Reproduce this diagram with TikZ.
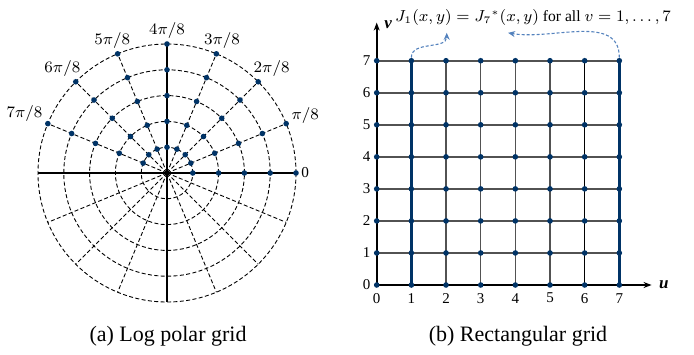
\documentclass[tikz,border=0pt]{standalone}
\usepackage{fontspec}
\setmainfont{Liberation Serif}
\usepackage{amsmath}
\usetikzlibrary{arrows.meta, positioning, calc}
\definecolor{gridNavy}{RGB}{0,51,102}
\definecolor{noteBlue}{RGB}{84,130,189}

\begin{document}
\begin{tikzpicture}[x=0.5pt, y=0.5pt,
    dot/.style={circle, fill=gridNavy, inner sep=0pt, minimum size=2.8pt},
    polarline/.style={dash pattern=on 2pt off 1.2pt, line width=0.45pt},
    gridline/.style={line width=0.8pt, black!68},
    axisline/.style={line width=0.9pt, -{Stealth[length=4pt, width=3pt]}},
    tick/.style={font=\fontsize{7.5}{8}\selectfont},
    note/.style={-{Stealth[length=3.5pt, width=3pt]}, noteBlue, dash pattern=on 1.5pt off 1pt, line width=0.55pt}]
    \useasboundingbox (0,0) rectangle (694,354);
    % (a) log polar grid, centre (167,181), outer radius 129
    \begin{scope}[shift={(167,181)}]
        \foreach \r in {1,...,5} { \draw[polarline] (0,0) circle (25.8*\r); }
        \foreach \a in {0,22.5,...,337.5} { \draw[polarline] (0,0) -- (\a:129); }
        \draw[line width=1.2pt] (-129,0) -- (129,0);
        \draw[line width=1.2pt] (0,-129) -- (0,129);
        \foreach \k/\lab in {0/{0}, 1/{$\pi/8$}, 2/{$2\pi/8$}, 3/{$3\pi/8$}, 4/{$4\pi/8$}, 5/{$5\pi/8$}, 6/{$6\pi/8$}, 7/{$7\pi/8$}} {
            \pgfmathsetmacro\ang{\k*22.5}
            \foreach \r in {1,...,5} { \node[dot] (p-\k-\r) at (\ang:25.8*\r) {}; }
            \node[font=\fontsize{7.6}{8}\selectfont, anchor=\ang+180, inner sep=2.5pt] (lab-\k) at (\ang:129) {\lab};
        }
    \end{scope}
    \node[font=\fontsize{11}{13}\selectfont] (capA) at (168,18) {(a) Log polar grid};

    % (b) rectangular grid, origin (376.7,69)
    \begin{scope}[shift={(376.7,69)}, x=17.33pt, y=16.02pt]
        \foreach \j in {0,...,7} { \draw[gridline] (0,\j) -- (7,\j); }
        \foreach \i in {2,...,5} { \draw[gridline] (\i,0) -- (\i,7); }
        \draw[line width=0.8pt] (6,0) -- (6,7);
        \draw[line width=1.3pt, gridNavy] (1,0) -- (1,7);
        \draw[line width=1.3pt, gridNavy] (7,0) -- (7,7);
        \draw[axisline] (0,0) -- (7.93,0) node[right, font=\fontsize{8.5}{9}\selectfont\bfseries\itshape] (uLab) {u};
        \draw[axisline] (0,0) -- (0,8.19) node[right, yshift=-1pt, font=\fontsize{8.5}{9}\selectfont\bfseries\itshape] (vLab) {v};
        \foreach \i in {0,...,7} {
            \foreach \j in {0,...,7} { \node[dot] (g-\i-\j) at (\i,\j) {}; }
            \node[tick] (xt-\i) at (\i,-0.41) {\i};
            \node[tick] (yt-\i) at (-0.29,\i) {\i};
        }
        % J_1 and J_7 columns are the same
        \node[font=\fontsize{7.8}{9}\selectfont] (eq) at (4.51,8.36) {$J_1(x,y) = {J_7}^{*}(x,y)$ for all $v = 1, \ldots, 7$};
        \coordinate (tip1) at (2.02,7.87);
        \coordinate (tip2) at (3.79,7.87);
        \draw[note] (g-1-7) to[out=90, in=-90] (tip1);
        \draw[note] (g-7-7) to[out=90, in=-10] (tip2);
    \end{scope}
    \node[font=\fontsize{11}{13}\selectfont] (capB) at (518,18) {(b) Rectangular grid};
\end{tikzpicture}
\end{document}
